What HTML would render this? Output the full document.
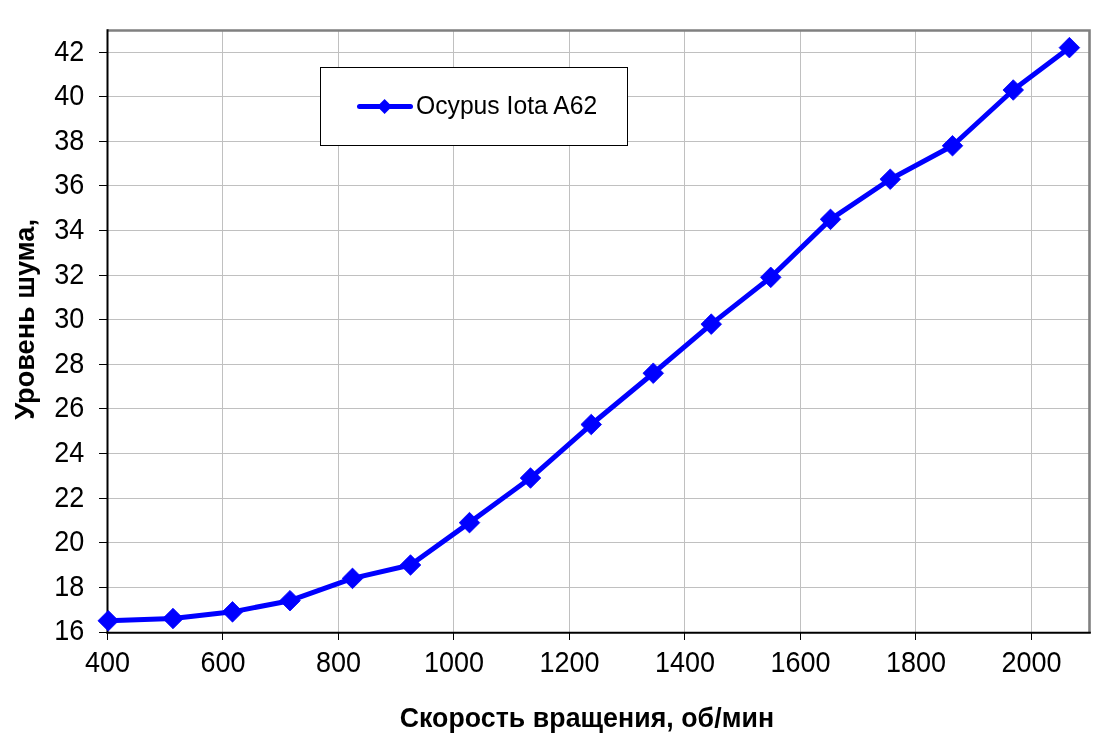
<!DOCTYPE html>
<html lang="ru"><head><meta charset="utf-8"><title>Ocypus Iota A62</title>
<style>
html,body{margin:0;padding:0;background:#fff;}
body{width:1105px;height:740px;overflow:hidden;}
svg{display:block;}
text{font-family:"Liberation Sans",Arial,sans-serif;fill:#000;}
.tl{font-size:27px;}
.ti{font-size:26.7px;font-weight:bold;}
.lg{font-size:24.7px;}
</style></head><body>
<svg width="1105" height="740" viewBox="0 0 1105 740">
<rect width="1105" height="740" fill="#fff"/>

<g stroke="#c0c0c0" stroke-width="1" shape-rendering="crispEdges">
<line x1="108" y1="587.5" x2="1089" y2="587.5"/>
<line x1="108" y1="542.5" x2="1089" y2="542.5"/>
<line x1="108" y1="498.5" x2="1089" y2="498.5"/>
<line x1="108" y1="453.5" x2="1089" y2="453.5"/>
<line x1="108" y1="408.5" x2="1089" y2="408.5"/>
<line x1="108" y1="364.5" x2="1089" y2="364.5"/>
<line x1="108" y1="319.5" x2="1089" y2="319.5"/>
<line x1="108" y1="275.5" x2="1089" y2="275.5"/>
<line x1="108" y1="230.5" x2="1089" y2="230.5"/>
<line x1="108" y1="185.5" x2="1089" y2="185.5"/>
<line x1="108" y1="141.5" x2="1089" y2="141.5"/>
<line x1="108" y1="96.5" x2="1089" y2="96.5"/>
<line x1="108" y1="52.5" x2="1089" y2="52.5"/>
<line x1="222.5" y1="31" x2="222.5" y2="632"/>
<line x1="338.5" y1="31" x2="338.5" y2="632"/>
<line x1="453.5" y1="31" x2="453.5" y2="632"/>
<line x1="569.5" y1="31" x2="569.5" y2="632"/>
<line x1="684.5" y1="31" x2="684.5" y2="632"/>
<line x1="800.5" y1="31" x2="800.5" y2="632"/>
<line x1="915.5" y1="31" x2="915.5" y2="632"/>
<line x1="1031.5" y1="31" x2="1031.5" y2="632"/>
</g>
<path d="M107.5 30.5 H1089.5 V633" fill="none" stroke="#808080" stroke-width="2.6"/>
<path d="M107.5 29.3 V633.8 M106.2 632.7 H1090.8" fill="none" stroke="#000" stroke-width="2"/>
<g stroke="#000" stroke-width="1" shape-rendering="crispEdges">
<line x1="99" y1="632.5" x2="107" y2="632.5"/>
<line x1="99" y1="587.5" x2="107" y2="587.5"/>
<line x1="99" y1="542.5" x2="107" y2="542.5"/>
<line x1="99" y1="498.5" x2="107" y2="498.5"/>
<line x1="99" y1="453.5" x2="107" y2="453.5"/>
<line x1="99" y1="408.5" x2="107" y2="408.5"/>
<line x1="99" y1="364.5" x2="107" y2="364.5"/>
<line x1="99" y1="319.5" x2="107" y2="319.5"/>
<line x1="99" y1="275.5" x2="107" y2="275.5"/>
<line x1="99" y1="230.5" x2="107" y2="230.5"/>
<line x1="99" y1="185.5" x2="107" y2="185.5"/>
<line x1="99" y1="141.5" x2="107" y2="141.5"/>
<line x1="99" y1="96.5" x2="107" y2="96.5"/>
<line x1="99" y1="52.5" x2="107" y2="52.5"/>
<line x1="107.5" y1="633" x2="107.5" y2="640"/>
<line x1="222.5" y1="633" x2="222.5" y2="640"/>
<line x1="338.5" y1="633" x2="338.5" y2="640"/>
<line x1="453.5" y1="633" x2="453.5" y2="640"/>
<line x1="569.5" y1="633" x2="569.5" y2="640"/>
<line x1="684.5" y1="633" x2="684.5" y2="640"/>
<line x1="800.5" y1="633" x2="800.5" y2="640"/>
<line x1="915.5" y1="633" x2="915.5" y2="640"/>
<line x1="1031.5" y1="633" x2="1031.5" y2="640"/>
</g>
<g class="tl" text-anchor="end">
<text transform="translate(84.3 640) scale(1 1.077)">16</text>
<text transform="translate(84.3 596) scale(1 1.077)">18</text>
<text transform="translate(84.3 551) scale(1 1.077)">20</text>
<text transform="translate(84.3 507) scale(1 1.077)">22</text>
<text transform="translate(84.3 462) scale(1 1.077)">24</text>
<text transform="translate(84.3 417) scale(1 1.077)">26</text>
<text transform="translate(84.3 373) scale(1 1.077)">28</text>
<text transform="translate(84.3 328) scale(1 1.077)">30</text>
<text transform="translate(84.3 284) scale(1 1.077)">32</text>
<text transform="translate(84.3 239) scale(1 1.077)">34</text>
<text transform="translate(84.3 194) scale(1 1.077)">36</text>
<text transform="translate(84.3 150) scale(1 1.077)">38</text>
<text transform="translate(84.3 105) scale(1 1.077)">40</text>
<text transform="translate(84.3 61) scale(1 1.077)">42</text>
</g>
<g class="tl" text-anchor="middle">
<text transform="translate(107.5 672) scale(1 1.077)">400</text>
<text transform="translate(223.0 672) scale(1 1.077)">600</text>
<text transform="translate(338.5 672) scale(1 1.077)">800</text>
<text transform="translate(454.0 672) scale(1 1.077)">1000</text>
<text transform="translate(569.5 672) scale(1 1.077)">1200</text>
<text transform="translate(685.0 672) scale(1 1.077)">1400</text>
<text transform="translate(800.5 672) scale(1 1.077)">1600</text>
<text transform="translate(916.0 672) scale(1 1.077)">1800</text>
<text transform="translate(1031.5 672) scale(1 1.077)">2000</text>
</g>
<polyline points="108.25,620.75 173.00,618.52 232.50,611.83 290.00,600.68 352.50,578.38 410.50,565.00 469.50,522.63 530.50,478.03 591.25,424.51 653.25,373.22 711.25,324.16 770.75,277.33 830.50,219.35 890.25,179.21 952.50,145.76 1013.25,90.01 1069.40,47.64" fill="none" stroke="#0000ff" stroke-width="5" stroke-linejoin="round" stroke-linecap="round"/>
<g fill="#0000ff" stroke="#0000ff" stroke-width="0.8" stroke-linejoin="round">
<path d="M108.25 610.45 L118.55 620.75 L108.25 631.05 L97.95 620.75 Z"/>
<path d="M173.00 608.22 L183.30 618.52 L173.00 628.82 L162.70 618.52 Z"/>
<path d="M232.50 601.53 L242.80 611.83 L232.50 622.13 L222.20 611.83 Z"/>
<path d="M290.00 590.38 L300.30 600.68 L290.00 610.98 L279.70 600.68 Z"/>
<path d="M352.50 568.08 L362.80 578.38 L352.50 588.68 L342.20 578.38 Z"/>
<path d="M410.50 554.70 L420.80 565.00 L410.50 575.30 L400.20 565.00 Z"/>
<path d="M469.50 512.33 L479.80 522.63 L469.50 532.93 L459.20 522.63 Z"/>
<path d="M530.50 467.73 L540.80 478.03 L530.50 488.33 L520.20 478.03 Z"/>
<path d="M591.25 414.21 L601.55 424.51 L591.25 434.81 L580.95 424.51 Z"/>
<path d="M653.25 362.92 L663.55 373.22 L653.25 383.52 L642.95 373.22 Z"/>
<path d="M711.25 313.86 L721.55 324.16 L711.25 334.46 L700.95 324.16 Z"/>
<path d="M770.75 267.03 L781.05 277.33 L770.75 287.63 L760.45 277.33 Z"/>
<path d="M830.50 209.05 L840.80 219.35 L830.50 229.65 L820.20 219.35 Z"/>
<path d="M890.25 168.91 L900.55 179.21 L890.25 189.51 L879.95 179.21 Z"/>
<path d="M952.50 135.46 L962.80 145.76 L952.50 156.06 L942.20 145.76 Z"/>
<path d="M1013.25 79.71 L1023.55 90.01 L1013.25 100.31 L1002.95 90.01 Z"/>
<path d="M1069.40 37.34 L1079.70 47.64 L1069.40 57.94 L1059.10 47.64 Z"/>
</g>
<rect x="320.5" y="67.5" width="307" height="78" fill="#fff" stroke="#000" stroke-width="1" shape-rendering="crispEdges"/>
<line x1="359.5" y1="106.5" x2="410.5" y2="106.5" stroke="#0000ff" stroke-width="5" stroke-linecap="round"/>
<path d="M384.6 99 L392 106.5 L384.6 114 L377.2 106.5 Z" fill="#0000ff"/>
<text class="lg" transform="translate(416 113.6) scale(1 1.05)">Ocypus Iota A62</text>
<text class="ti" style="letter-spacing:0.06px" transform="translate(586.9 726.9) scale(1 1.06)" text-anchor="middle">Скорость вращения, об/мин</text>
<text class="ti" style="font-size:27.15px" transform="translate(34 319.4) rotate(-90) scale(1 1.04)" text-anchor="middle">Уровень шума,</text>
</svg></body></html>
